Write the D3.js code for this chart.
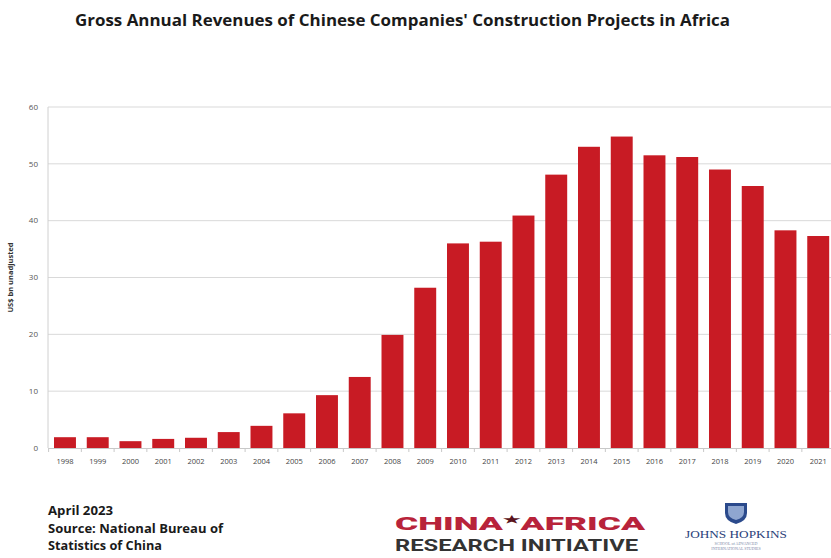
<!DOCTYPE html>
<html>
<head>
<meta charset="utf-8">
<script src="https://cdn.jsdelivr.net/npm/d3@7"></script>
<style>
  html, body { margin: 0; padding: 0; background: #ffffff; }
  svg { display: block; }
</style>
</head>
<body>
<script>
const years = ["1998","1999","2000","2001","2002","2003","2004","2005","2006","2007","2008","2009","2010","2011","2012","2013","2014","2015","2016","2017","2018","2019","2020","2021"];
const revenues = [1.9, 1.9, 1.2, 1.6, 1.8, 2.8, 3.9, 6.1, 9.3, 12.5, 19.9, 28.2, 36.0, 36.3, 40.9, 48.1, 53.0, 54.8, 51.5, 51.2, 49.0, 46.1, 38.3, 37.3];
const yTicks = [0, 10, 20, 30, 40, 50, 60];
const titleText = "Gross Annual Revenues of Chinese Companies' Construction Projects in Africa";
const yLabel = "US$ bn unadjusted";
const noteLines = ["April 2023", "Source: National Bureau of", "Statistics of China"];

const W = 831, H = 558;
const svg = d3.select("body").append("svg").attr("width", W).attr("height", H);

const x = d3.scaleBand().domain(years).range([48.6, 834.6]).paddingInner(0.33).paddingOuter(0.165);
const y = d3.scaleLinear().domain([0, 60]).range([448, 107]);

// gridlines
svg.append("g").selectAll("line").data(yTicks.filter(d => d > 0)).join("line")
  .attr("x1", 48).attr("x2", W)
  .attr("y1", d => y(d)).attr("y2", d => y(d))
  .attr("stroke", "#d9d9d9").attr("stroke-width", 1);

// y axis line
svg.append("line").attr("x1", 48).attr("x2", 48).attr("y1", y(60)).attr("y2", y(0))
  .attr("stroke", "#d0d0d0").attr("stroke-width", 1);

// y tick labels
svg.append("g").selectAll("text").data(yTicks).join("text")
  .attr("x", 38).attr("y", d => y(d)).attr("dy", "0.35em")
  .attr("text-anchor", "end")
  .attr("font-family", "'Open Sans', sans-serif").attr("font-size", 8)
  .attr("fill", "#555").text(d => d);

// bars
svg.append("g").selectAll("rect").data(years).join("rect")
  .attr("x", d => x(d)).attr("width", x.bandwidth())
  .attr("y", (d, i) => y(revenues[i])).attr("height", (d, i) => y(0) - y(revenues[i]))
  .attr("fill", "#c81b24");

// baseline axis
const xAxis = d3.axisBottom(x).tickSize(0).tickPadding(11);
const gx = svg.append("g").attr("transform", `translate(0,${y(0)})`).call(xAxis);
gx.select(".domain").attr("stroke", "#c8c8c8");
gx.selectAll("text").attr("font-family", "'Open Sans', sans-serif").attr("font-size", 7.5).attr("fill", "#444");

// small boundary ticks
svg.append("g").selectAll("line").data(years).join("line")
  .attr("x1", d => x(d) - x.step() * x.paddingInner() / 2)
  .attr("x2", d => x(d) - x.step() * x.paddingInner() / 2)
  .attr("y1", y(0)).attr("y2", y(0) + 4)
  .attr("stroke", "#c8c8c8");

// y label
svg.append("text")
  .attr("transform", `translate(13,${(y(0) + y(60)) / 2}) rotate(-90)`)
  .attr("text-anchor", "middle")
  .attr("font-family", "'Open Sans', sans-serif").attr("font-size", 7.5).attr("font-weight", "bold")
  .attr("fill", "#333").text(yLabel);

// title
svg.append("text")
  .attr("x", 75).attr("y", 25.5)
  .attr("font-family", "'Open Sans', sans-serif").attr("font-size", 16).attr("font-weight", "bold")
  .attr("fill", "#1a1a1a")
  .attr("textLength", 655).attr("lengthAdjust", "spacingAndGlyphs")
  .text(titleText);

// notes
const noteWidths = [65, 175, 114];
svg.append("g").selectAll("text").data(noteLines).join("text")
  .attr("x", 48).attr("y", (d, i) => 515 + i * 17.5)
  .attr("font-family", "'Open Sans', sans-serif").attr("font-size", 11.5).attr("font-weight", "bold")
  .attr("fill", "#1a1a1a")
  .attr("textLength", (d, i) => noteWidths[i]).attr("lengthAdjust", "spacingAndGlyphs")
  .text(d => d);

// CHINA*AFRICA logo
const logo = svg.append("text")
  .attr("x", 395).attr("y", 530)
  .attr("font-family", "Roboto, 'Open Sans', sans-serif").attr("font-size", 18).attr("font-weight", 900)
  .attr("fill", "#b8233a")
  .attr("textLength", 250).attr("lengthAdjust", "spacingAndGlyphs");
logo.append("tspan").text("CHINA");
logo.append("tspan").attr("dy", -7).attr("font-size", 10).attr("fill", "#5a1420").text("★");
logo.append("tspan").attr("dy", 7).text("AFRICA");

svg.append("text")
  .attr("x", 395).attr("y", 550.5)
  .attr("font-family", "Roboto, 'Open Sans', sans-serif").attr("font-size", 16).attr("font-weight", 700)
  .attr("fill", "#333333")
  .attr("textLength", 243).attr("lengthAdjust", "spacingAndGlyphs")
  .text("RESEARCH INITIATIVE");

// Johns Hopkins logo
const jh = svg.append("g");
jh.append("path")
  .attr("d", "M725,503 L747,503 L747,513 Q747,521 736,524 Q725,521 725,513 Z")
  .attr("fill", "#2b4a8c");
jh.append("path")
  .attr("d", "M728,506 L744,506 L744,512 Q744,518 736,520 Q728,518 728,512 Z")
  .attr("fill", "#8fa6d0");
jh.append("text")
  .attr("x", 736).attr("y", 538).attr("text-anchor", "middle")
  .attr("font-family", "'Liberation Serif', serif").attr("font-size", 10.5)
  .attr("fill", "#2b3f7a")
  .attr("textLength", 102).attr("lengthAdjust", "spacingAndGlyphs")
  .text("JOHNS HOPKINS");
jh.append("text")
  .attr("x", 736).attr("y", 545).attr("text-anchor", "middle")
  .attr("font-family", "'Liberation Serif', serif").attr("font-size", 4)
  .attr("fill", "#7a86a8").text("SCHOOL of ADVANCED");
jh.append("text")
  .attr("x", 736).attr("y", 550).attr("text-anchor", "middle")
  .attr("font-family", "'Liberation Serif', serif").attr("font-size", 4)
  .attr("fill", "#7a86a8").text("INTERNATIONAL STUDIES");
</script>
</body>
</html>
